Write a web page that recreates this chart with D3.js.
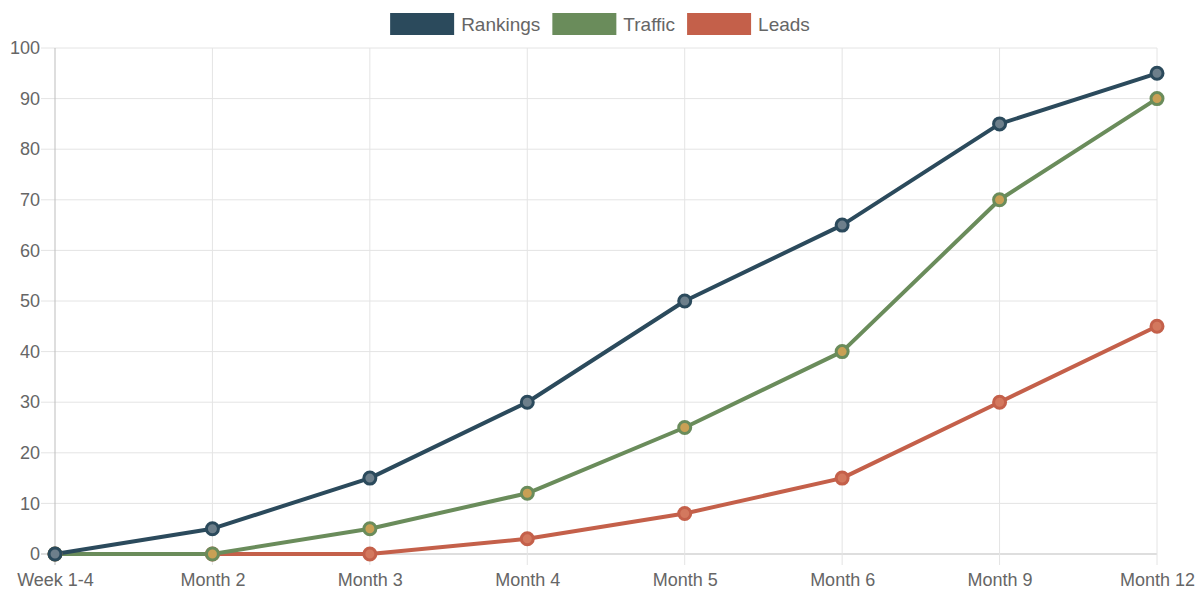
<!DOCTYPE html>
<html>
<head>
<meta charset="utf-8">
<script src="https://cdn.jsdelivr.net/npm/d3@7"></script>
<style>
  html, body { margin: 0; padding: 0; background: #fff; }
  svg { display: block; font-family: "Liberation Sans", Arial, sans-serif; }
</style>
</head>
<body>
<svg id="chart" width="1200" height="600"></svg>
<script>
// chart data
var labels = ["Week 1-4", "Month 2", "Month 3", "Month 4", "Month 5", "Month 6", "Month 9", "Month 12"];
var rankings = [0, 5, 15, 30, 50, 65, 85, 95];
var traffic = [0, 0, 5, 12, 25, 40, 70, 90];
var leads = [0, 0, 0, 3, 8, 15, 30, 45];
var yTicks = [0, 10, 20, 30, 40, 50, 60, 70, 80, 90, 100];

var seriesList = [
	{ name: "Rankings", values: rankings, color: "#2b4a5c", fill: "#6d7f8b" },
	{ name: "Traffic", values: traffic, color: "#6a8c5b", fill: "#c9a055" },
	{ name: "Leads", values: leads, color: "#c4604a", fill: "#d3785e" }
];

var svg = d3.select("#chart"),
	margin = { top: 48, right: 43, bottom: 46, left: 55 },
	width = +svg.attr("width"),
	height = +svg.attr("height"),
	fontSize = "18px";

var x = d3.scalePoint()
	.domain(labels)
	.range([margin.left, width - margin.right]);

var y = d3.scaleLinear()
	.domain([0, 100])
	.range([height - margin.bottom, margin.top]);

// grid
var grid = svg.append("g").attr("class", "grid");
grid.selectAll("line.h").data(yTicks).enter().append("line")
	.attr("x1", margin.left - 14).attr("x2", width - margin.right)
	.attr("y1", function(d) { return y(d); })
	.attr("y2", function(d) { return y(d); })
	.attr("stroke", function(d) { return d == 0 ? "#bdbdbd" : "#e4e4e4"; })
	.attr("stroke-width", 1);
grid.selectAll("line.v").data(labels).enter().append("line")
	.attr("y1", margin.top).attr("y2", height - margin.bottom + 11)
	.attr("x1", function(d) { return x(d); })
	.attr("x2", function(d) { return x(d); })
	.attr("stroke", function(d, i) { return i == 0 ? "#bdbdbd" : "#e4e4e4"; })
	.attr("stroke-width", 1);

// axes
var yAxis = svg.append("g")
	.attr("transform", "translate(" + margin.left + ",0)")
	.call(d3.axisLeft(y).tickValues(yTicks).tickSize(0).tickPadding(15));
var xAxis = svg.append("g")
	.attr("transform", "translate(0," + (height - margin.bottom) + ")")
	.call(d3.axisBottom(x).tickSize(0).tickPadding(19));
[yAxis, xAxis].forEach(function(a) {
	a.select(".domain").remove();
	a.selectAll("text")
		.attr("fill", "#666")
		.style("font-size", fontSize)
		.style("font-family", "\"Liberation Sans\", Arial, sans-serif");
});
xAxis.selectAll("text").attr("dy", "0.71em");

// lines
var line = d3.line()
	.x(function(d, i) { return x(labels[i]); })
	.y(function(d) { return y(d); });

var g_line = svg.append("g").attr("class", "lines");
seriesList.slice().reverse().forEach(function(s) {
	g_line.append("path")
		.attr("d", line(s.values))
		.attr("fill", "none")
		.attr("stroke", s.color)
		.attr("stroke-width", 4)
		.attr("stroke-linejoin", "round");
});
seriesList.slice().reverse().forEach(function(s) {
	g_line.append("g").selectAll("circle")
		.data(s.values).enter().append("circle")
		.attr("cx", function(d, i) { return x(labels[i]); })
		.attr("cy", function(d) { return y(d); })
		.attr("r", 6)
		.attr("fill", s.fill)
		.attr("stroke", s.color)
		.attr("stroke-width", 3);
});

// legend
var legend = svg.append("g").attr("class", "legend");
var boxW = 64, boxH = 22, gapText = 7, gapItem = 12;
var items = [];
seriesList.forEach(function(s) {
	var t = legend.append("text")
		.text(s.name)
		.attr("fill", "#666")
		.style("font-size", "19px")
		.attr("dominant-baseline", "central");
	items.push({ s: s, t: t, w: t.node().getComputedTextLength() });
});
var total = d3.sum(items, function(d) { return boxW + gapText + d.w; }) + gapItem * (items.length - 1);
var cx = width / 2 - total / 2;
items.forEach(function(it) {
	legend.append("rect")
		.attr("x", cx).attr("y", 13)
		.attr("width", boxW).attr("height", boxH)
		.attr("fill", it.s.color);
	it.t.attr("x", cx + boxW + gapText).attr("y", 24);
	cx += boxW + gapText + it.w + gapItem;
});
</script>
</body>
</html>
